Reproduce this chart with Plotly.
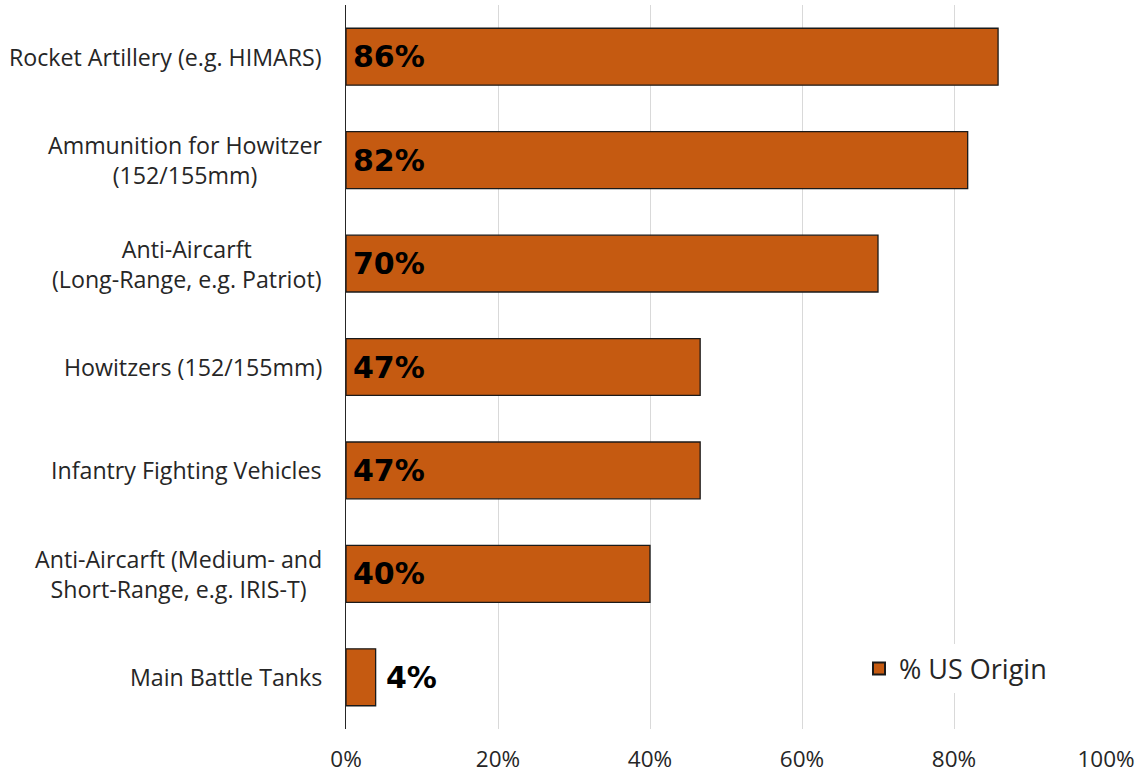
import plotly.graph_objects as go

categories = [
    "Rocket Artillery (e.g. HIMARS)",
    "Ammunition for Howitzer<br>(152/155mm)",
    "Anti-Aircarft<br>(Long-Range, e.g. Patriot)",
    "Howitzers (152/155mm)",
    "Infantry Fighting Vehicles",
    "Anti-Aircarft (Medium- and<br>Short-Range, e.g. IRIS-T)",
    "Main Battle Tanks",
]
values = [85.8, 81.8, 70, 46.6, 46.6, 40, 3.9]
value_labels = ["86%", "82%", "70%", "47%", "47%", "40%", "4%"]
tick_vals = [0, 20, 40, 60, 80, 100]
tick_text = ["0%", "20%", "40%", "60%", "80%", "100%"]

BAR = "#C55A11"
FONT = "Open Sans"

fig = go.Figure()
fig.add_trace(go.Bar(
    y=categories, x=values, orientation="h",
    name="% US Origin",
    marker=dict(color=BAR, line=dict(color="#1a1a1a", width=1.3)),
    width=0.55,
    hoverinfo="skip",
))

annotations = []
for cat, v, lab in zip(categories, values, value_labels):
    inside = v > 10
    annotations.append(dict(
        x=0 if inside else v, y=cat, xref="x", yref="y",
        text=lab, showarrow=False, xanchor="left",
        xshift=5 if inside else 8,
        font=dict(family="DejaVu Sans", size=30, color="black", weight="bold"),
    ))
    annotations.append(dict(
        x=0, y=cat, xref="paper", yref="y",
        text=cat, showarrow=False, xanchor="right", align="center",
        xshift=-22,
        font=dict(family=FONT, size=23.2, color="#262626"),
    ))

fig.update_layout(
    width=1145, height=776,
    margin=dict(l=346, r=39, t=5, b=47, autoexpand=False),
    paper_bgcolor="white", plot_bgcolor="white",
    showlegend=True,
    legend=dict(
        x=0.675, y=0.083, xanchor="left", yanchor="middle",
        bgcolor="white", font=dict(family=FONT, size=27, color="#262626"),
        itemsizing="constant",
    ),
    xaxis=dict(
        range=[0, 100], tickvals=tick_vals, ticktext=tick_text,
        showgrid=True, gridcolor="#d9d9d9", gridwidth=1.3,
        zeroline=False, showline=False, automargin=False,
        ticks="outside", ticklen=10, tickcolor="rgba(0,0,0,0)",
        tickfont=dict(family=FONT, size=22.5, color="#262626"),
        fixedrange=True,
    ),
    yaxis=dict(
        autorange="reversed", showticklabels=False, automargin=False,
        showline=True, linecolor="#262626", linewidth=1.3,
        showgrid=False, fixedrange=True,
    ),
    annotations=annotations,
    bargap=0.45,
)

fig.write_html(
    "out.html",
    config={"displayModeBar": False},
    post_script="document.body.style.margin='0';document.body.style.overflow='hidden';",
)
